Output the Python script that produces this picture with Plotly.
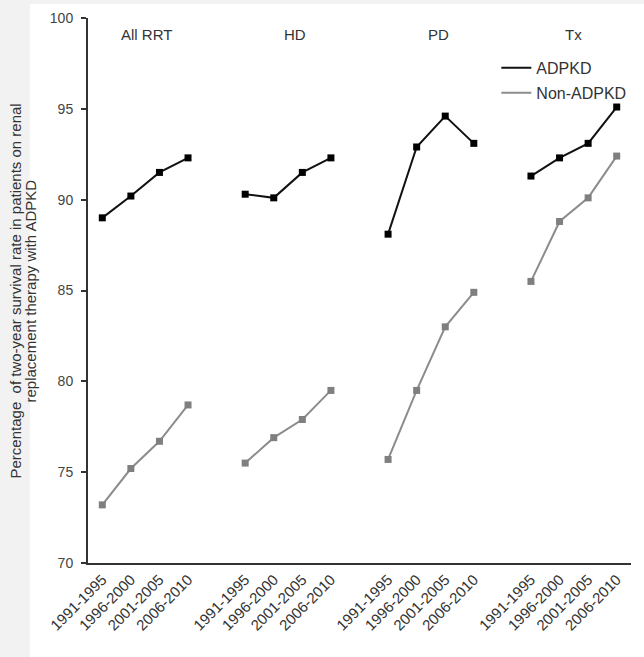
import plotly.graph_objects as go

periods = ["1991-1995", "1996-2000", "2001-2005", "2006-2010"]
groups = ["All RRT", "HD", "PD", "Tx"]
adpkd = {
    "All RRT": [89.0, 90.2, 91.5, 92.3],
    "HD": [90.3, 90.1, 91.5, 92.3],
    "PD": [88.1, 92.9, 94.6, 93.1],
    "Tx": [91.3, 92.3, 93.1, 95.1],
}
non_adpkd = {
    "All RRT": [73.2, 75.2, 76.7, 78.7],
    "HD": [75.5, 76.9, 77.9, 79.5],
    "PD": [75.7, 79.5, 83.0, 84.9],
    "Tx": [85.5, 88.8, 90.1, 92.4],
}
group_label_x = [1.55, 6.75, 11.75, 16.5]
y_title_lines = ["Percentage  of two-year survival rate in patients on renal",
                 "replacement therapy with ADPKD"]

def build(series):
    xs, ys = [], []
    for gi, g in enumerate(groups):
        for pi, v in enumerate(series[g]):
            xs.append(gi * 5 + pi)
            ys.append(v)
        xs.append(None)
        ys.append(None)
    return xs, ys

tickvals, ticktext = [], []
for gi in range(len(groups)):
    for pi, p in enumerate(periods):
        tickvals.append(gi * 5 + pi)
        ticktext.append(p)

fig = go.Figure()
x1, y1 = build(adpkd)
x2, y2 = build(non_adpkd)
fig.add_trace(go.Scatter(x=x1, y=y1, mode="lines+markers", showlegend=False,
                         line=dict(color="#111111", width=2),
                         marker=dict(symbol="square", size=7, color="#000000")))
fig.add_trace(go.Scatter(x=x2, y=y2, mode="lines+markers", showlegend=False,
                         line=dict(color="#8c8c8c", width=2),
                         marker=dict(symbol="square", size=7, color="#7f7f7f")))
fig.add_trace(go.Scatter(x=[None], y=[None], mode="lines", name="ADPKD",
                         legendgroup="a", line=dict(color="#111111", width=2)))
fig.add_trace(go.Scatter(x=[None], y=[None], mode="lines", name="Non-ADPKD",
                         legendgroup="b", line=dict(color="#8c8c8c", width=2)))

for gx, g in zip(group_label_x, groups):
    fig.add_annotation(x=gx, y=99.1, xref="x", yref="y", text=g, showarrow=False,
                       font=dict(size=15, color="#333333"))

for tx, line in zip([-0.1326, -0.1050], y_title_lines):
    fig.add_annotation(x=tx, y=0.5, xref="paper", yref="paper", text=line,
                       textangle=-90, showarrow=False, xanchor="center", yanchor="middle",
                       font=dict(size=15, color="#333333"))

fig.update_layout(
    width=644, height=657,
    margin=dict(l=88, r=13, t=18, b=94, autoexpand=False),
    paper_bgcolor="#f2f2f2", plot_bgcolor="white",
    font=dict(family="Liberation Sans, Arial, sans-serif", color="#333333"),
    legend=dict(x=0.752, y=0.9395, xanchor="left", yanchor="top",
                bgcolor="rgba(0,0,0,0)", font=dict(size=16, color="#333333"),
                tracegroupgap=1, itemwidth=30),
    shapes=[dict(type="rect", xref="paper", yref="paper",
                 x0=-0.107, x1=1.05, y0=-0.2, y1=1.0257,
                 fillcolor="white", line=dict(width=0), layer="below")],
)
fig.update_xaxes(range=[-0.5, 18.5], tickvals=tickvals, ticktext=ticktext,
                 tickangle=-45, tickfont=dict(size=15, color="#333333"),
                 showgrid=False, zeroline=False, showline=True, automargin=False,
                 linecolor="#333333", linewidth=2, ticks="")
fig.update_yaxes(range=[70, 100], dtick=5, showgrid=False, zeroline=False,
                 showline=True, linecolor="#333333", linewidth=2, automargin=False,
                 ticks="outside", ticklen=5, tickwidth=1.5, tickcolor="#333333",
                 ticklabelstandoff=5,
                 tickfont=dict(size=14, color="#444444"))

fig.write_html("out.html", config={"displayModeBar": False},
               post_script="document.body.style.margin='0px';")
